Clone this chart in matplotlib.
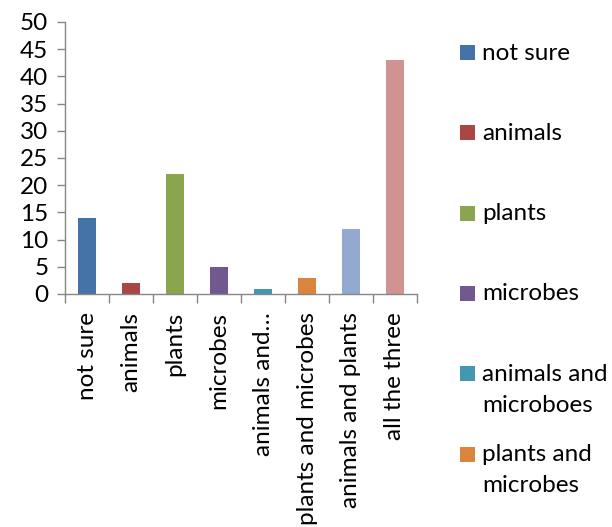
import matplotlib
matplotlib.use("Agg")
import matplotlib.pyplot as plt
import matplotlib.patches as mpatches

# survey answers
categories = ['not sure', 'animals', 'plants', 'microbes', 'animals and microboes',
              'plants and microbes', 'animals and plants', 'all the three']
tick_labels = ['not sure', 'animals', 'plants', 'microbes', 'animals and\u2026',
               'plants and microbes', 'animals and plants', 'all the three']
legend_labels = ['not sure', 'animals', 'plants', 'microbes', 'animals and\nmicroboes',
                 'plants and\nmicrobes', 'animals and plants', 'all the three']
counts = [14, 2, 22, 5, 1, 3, 12, 43]
colors = ['#4572A7', '#AA4643', '#89A54E', '#71588F', '#4198AF', '#DB843D', '#93A9CF', '#D19392']

plt.rcParams['font.family'] = ['Lato', 'DejaVu Sans']
fs = 17.5
W, H = 612, 527

fig = plt.figure(figsize=(W / 100, H / 100), dpi=100)
ax = fig.add_axes([65 / W, 1 - 294 / H, (417 - 65) / W, (294 - 22) / H])

x = list(range(len(categories)))
ax.bar(x, counts, width=0.41, color=colors)

ax.set_xlim(-0.5, len(categories) - 0.5)
ax.set_ylim(0, 50)
ax.set_yticks(range(0, 51, 5))
ax.tick_params(axis='y', direction='out', length=6, width=1, color='#868686',
               labelsize=fs, pad=6)

# category labels sit under the bars, tick marks between categories
ax.set_xticks(x)
ax.set_xticklabels(tick_labels, rotation=90, va='top', ha='center', fontsize=fs)
ax.tick_params(axis='x', which='major', length=0, pad=13)
ax.set_xticks([i - 0.5 for i in range(len(categories) + 1)], minor=True)
ax.tick_params(axis='x', which='minor', direction='out', length=6.5, width=1, color='#868686')

for s in ['top', 'right']:
    ax.spines[s].set_visible(False)
for s in ['left', 'bottom']:
    ax.spines[s].set_color('#868686')
    ax.spines[s].set_linewidth(1)

# legend on the right, evenly spaced rows
for i, (lab, col) in enumerate(zip(legend_labels, colors)):
    yc = 52.5 + 80.3 * i
    if yc > H - 30:
        continue
    fig.patches.append(mpatches.Rectangle((460 / W, 1 - (yc + 7.5) / H), 15 / W, 15 / H,
                                          transform=fig.transFigure, facecolor=col,
                                          edgecolor='none'))
    fig.text(482 / W, 1 - (yc - 10) / H, lab, fontsize=fs, va='top', ha='left',
             linespacing=1.6)

fig.savefig('out.png', dpi=100)
